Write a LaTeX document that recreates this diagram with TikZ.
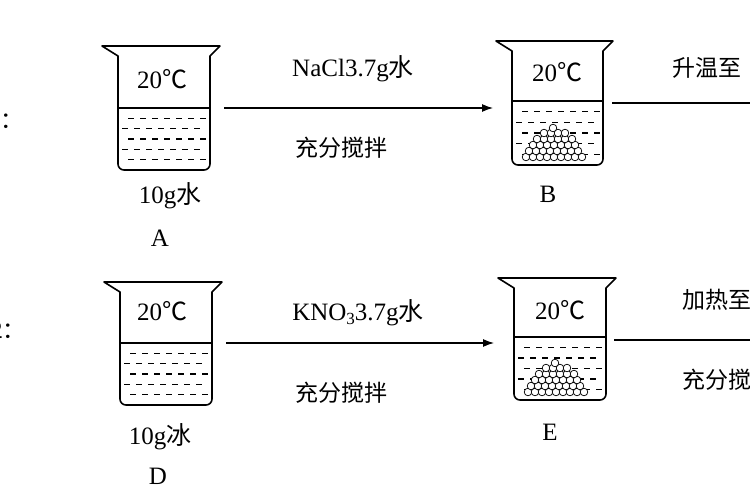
\documentclass[tikz,border=0pt]{standalone}
\usepackage{fontspec}
\setmainfont{Liberation Serif}
\newfontfamily\cjk{Noto Sans CJK SC}
\usetikzlibrary{arrows.meta}
\tikzset{lbl/.style={font=\fontsize{25}{28}\selectfont,inner sep=0pt},
 clbl/.style={font=\cjk\fontsize{23}{26}\selectfont,inner sep=0pt},
 ln/.style={line width=1.2pt},
 arr/.style={ln,-{Latex[length=11pt,width=8pt]}}}
\newcommand\bkr[6]{%
 \draw[line width=1.6pt,line join=round] (#1-16,#3) -- (#2+10,#3) -- (#2,#3+10) [rounded corners=6pt] -- (#2,#5) -- (#1,#5) [sharp corners] -- (#1,#3+10) -- cycle;
 \draw[ln] (#1,#4) -- (#2,#4);
 \foreach \r in {1,...,5}{\pgfmathsetmacro\yy{#4+\r*(#5-#4)/6}
  \pgfmathsetmacro\off{mod(\r,2)*6}
  \foreach \xx in {4,16,...,100}{\pgfmathsetmacro\xa{#1+\xx+\off}
   \ifdim\xa pt<\dimexpr#2pt-8pt\relax \draw[line width=1.3pt] (\xa,\yy) -- ++(6,0);\fi}}
 \ifnum#6=1
  \foreach \i/\j in {0/0,7/0,14/0,21/0,28/0,35/0,42/0,49/0,56/0,3/-6,10/-6,17/-6,24/-6,31/-6,38/-6,45/-6,52/-6,7/-12,14/-12,21/-12,28/-12,35/-12,42/-12,49/-12,11/-18,18/-18,25/-18,32/-18,39/-18,46/-18,18/-24,25/-24,32/-24,39/-24,27/-29}
   {\draw[fill=white,line width=0.7pt] (#1+14+\i,#5-8+\j) circle (3.8);}
 \fi}
\begin{document}
\begin{tikzpicture}[x=1pt,y=-1pt]
\useasboundingbox (0,0) rectangle (750,500);
\clip (0,0) rectangle (750,500);
% row 1
\bkr{118}{210}{46}{108}{170}{0}
\node[lbl] (tA) at (162,79) {20\cjk ℃};
\node[lbl] (wA) at (170,196) {10g\cjk 水};
\node[lbl] (A) at (160,238) {A};
\coordinate (a1) at (224,108); \coordinate (b1) at (493,108);
\draw[arr] (a1) -- (b1);
\node[lbl] (l1) at (353,69) {NaCl3.7g\cjk 水};
\node[clbl] (l2) at (341,148) {充分搅拌};
\bkr{512}{603}{41}{101}{165}{1}
\node[lbl] (tB) at (557,72) {20\cjk ℃};
\node[lbl] (B) at (548,194) {B};
\coordinate (b2) at (612,103); \coordinate (c1) at (752,103);
\draw[ln] (b2) -- (c1);
\node[clbl,anchor=west] (l3) at (672,68) {升温至};
\node[clbl,anchor=west] (n1) at (-12,120) {1：};
% row 2
\bkr{120}{212}{282}{343}{405}{0}
\node[lbl] (tD) at (162,311) {20\cjk ℃};
\node[lbl] (wD) at (160,437) {10g\cjk 冰};
\node[lbl] (D) at (158,476) {D};
\coordinate (d1) at (226,343); \coordinate (e1) at (494,343);
\draw[arr] (d1) -- (e1);
\node[lbl] (l4) at (358,313) {KNO\raisebox{-4pt}{\fontsize{17}{20}\selectfont 3}3.7g\cjk 水};
\node[clbl] (l5) at (341,393) {充分搅拌};
\bkr{514}{606}{278}{337}{400}{1}
\node[lbl] (tE) at (560,310) {20\cjk ℃};
\node[lbl] (E) at (550,432) {E};
\coordinate (e2) at (614,340); \coordinate (f1) at (752,340);
\draw[ln] (e2) -- (f1);
\node[clbl,anchor=west] (l6) at (682,300) {加热至};
\node[clbl,anchor=west] (l7) at (682,380) {充分搅拌};
\node[clbl,anchor=west] (n2) at (-10,330) {2：};
\end{tikzpicture}
\end{document}
